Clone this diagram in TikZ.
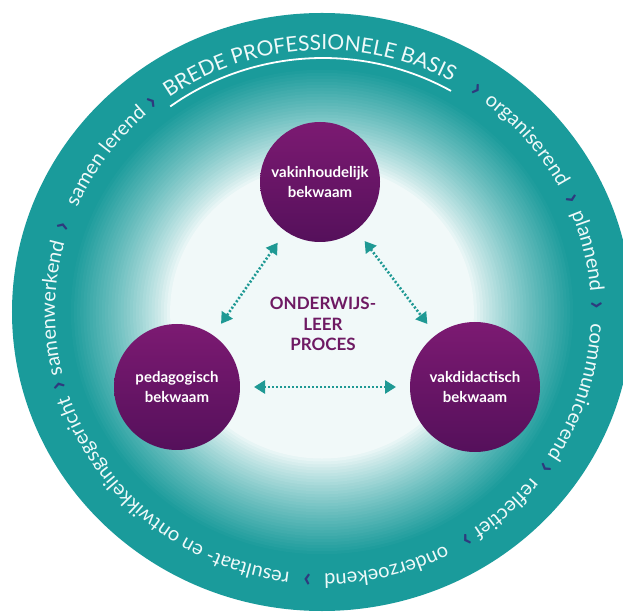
\documentclass[tikz,border=0pt]{standalone}
\usepackage{fontspec}
\setmainfont{Lato}
\usetikzlibrary{arrows.meta,decorations.text}
\definecolor{ringTeal}{HTML}{1A9B9B}
\definecolor{ringNavy}{HTML}{2E3A7E}
\definecolor{ringText}{HTML}{EEF9F9}
\definecolor{compPurple}{HTML}{7C1A72}
\definecolor{compPurpleD}{HTML}{55105B}
\definecolor{procPurple}{HTML}{6E1A63}
\definecolor{arrTeal}{HTML}{1F9994}
\newcommand\ringfont{\fontsize{20}{20}\selectfont}
\newcommand\ringcapfont{\fontsize{21}{21}\selectfont}

\begin{document}
\begin{tikzpicture}[x=1pt,y=1pt,
  comp/.style={circle,minimum size=126pt,inner sep=0pt,outer sep=0pt,
               top color=compPurple,bottom color=compPurpleD,text=white,
               font=\fontsize{15}{20}\selectfont\bfseries,align=center},
  darr/.style={{Triangle[length=11pt,width=13pt]}-{Triangle[length=11pt,width=13pt]},
               arrTeal,line width=2.6pt,dash pattern=on 2pt off 2pt,
               shorten <=14pt,shorten >=14pt},
  sepmark/.style={font=\fontsize{27}{27}\selectfont\bfseries,text=ringNavy,
               anchor=base,inner sep=0pt},
  ringword/.style 2 args={decorate,
               decoration={text along path,text color=ringText,text align=center,
                           text={|\ringfont|#2}},
               insert path={(323,301) ++(#1+40:268 and 262)
                 arc[start angle=#1+40,end angle=#1-40,x radius=268,y radius=262]}}]

\useasboundingbox (0,0) rectangle (623,613);
\clip (0,0) rectangle (623,613);
\fill[white] (0,0) rectangle (623,613);

%% ring with gradient towards the white centre
\foreach \s in {100,99,...,49}{
  \pgfmathsetmacro\p{100*min(1,(\s-48)/34)^0.8}
  \pgfmathsetmacro\rx{3.1*\s}
  \pgfmathsetmacro\ry{2.99*\s}
  \fill[ringTeal!\p!white] (322,301) ellipse[x radius=\rx,y radius=\ry];
}

%% words along the ring
\path[ringword={93.2}{|\ringcapfont|BREDE PROFESSIONELE BASIS}];
\draw[white,line width=1.8pt] (323,301) ++(126:260 and 254)
  arc[start angle=126,end angle=60.5,x radius=260,y radius=254];
\path[ringword={40.5}{organiserend}];
\path[ringword={13.2}{plannend}];
\path[ringword={-17.7}{communicerend}];
\path[ringword={-47.4}{reflectief}];
\path[ringword={-76.2}{onderzoekend}];
\path[ringword={-129.3}{resultaat- en ontwikkelingsgericht}];
\path[ringword={179.2}{samenwerkend}];
\path[ringword={144}{samen lerend}];

\foreach \a [count=\i] in {56,25,1.4,-35.5,-58.3,-93.3,-164,161.3,128.6}
  \node[sepmark,rotate=\a-90] (sep\i) at ([shift={(323,301)}]\a:267 and 261) {›};

%% competences
\node[comp,minimum size=120pt] (vak) at (320,431) {vakinhoudelijk\\bekwaam};
\node[comp] (ped) at (177,226) {pedagogisch\\bekwaam};
\node[comp,minimum size=130pt] (vakd) at (475,226) {vakdidactisch\\bekwaam};

\node[font=\fontsize{17}{20.5}\selectfont\bfseries,text=procPurple,align=center]
  (proc) at (323,289) {ONDERWIJS-\\LEER\\PROCES};

\draw[darr] (vak) -- (ped);
\draw[darr] (vak) -- (vakd);
\draw[darr] (ped) -- (vakd);
\end{tikzpicture}
\end{document}
